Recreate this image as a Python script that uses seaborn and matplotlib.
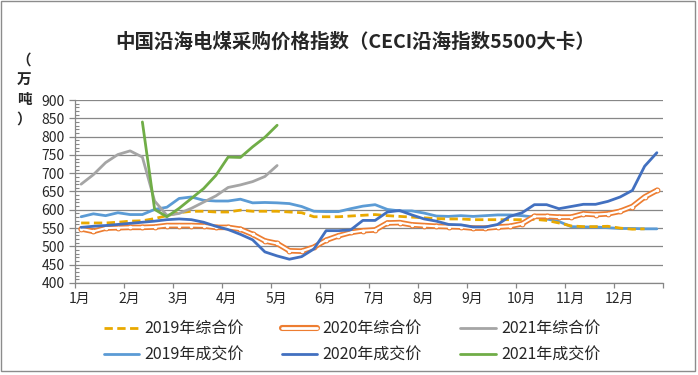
import numpy as np
import pandas as pd
import matplotlib
matplotlib.use("Agg")
import matplotlib.pyplot as plt
import seaborn as sns
from matplotlib.lines import Line2D
from matplotlib.legend_handler import HandlerTuple
from matplotlib.patches import Rectangle
from matplotlib.ticker import MultipleLocator
import matplotlib.transforms as mtransforms

# ---------------- data (4 readings per month, 48 per year) ----------------
months = ["1月", "2月", "3月", "4月", "5月", "6月", "7月", "8月", "9月", "10月", "11月", "12月"]
weeks_per_month = 4

comp_2019 = [564, 564, 564, 566, 569, 570, 576, 584, 592, 596, 596, 594, 594, 599, 596, 596,
             596, 594, 592, 581, 581, 581, 583, 585, 587, 584, 582, 580, 578, 576, 575, 575,
             573, 573, 573, 573, 573, 574, 571, 564, 556, 554, 554, 555, 550, 547, 548, None]
comp_2020 = [548, 541, 550, 551, 552, 552, 553, 557, 557, 557, 556, 552, 552, 547, 533, 515,
             508, 488, 487, 498, 517, 529, 538, 543, 545, 564, 565, 559, 557, 555, 554, 553,
             550, 550, 553, 555, 562, 582, 582, 580, 580, 589, 587, 589, 596, 609, 635, 653]
comp_2021 = [670, 696, 729, 751, 761, 744, 624, 585, 590, 604, 621, 638, 661, 668, 677, 691,
             721] + [None] * 31
deal_2019 = [581, 589, 584, 592, 587, 587, 601, 607, 631, 635, 626, 624, 624, 629, 619, 620,
             619, 617, 609, 596, 595, 595, 603, 610, 614, 601, 597, 597, 591, 583, 582, 584,
             582, 584, 586, 586, 584, 580, 575, 568, 554, 553, 553, 551, 549, 549, 548, 548]
deal_2020 = [552, 555, 557, 560, 563, 566, 569, 573, 575, 573, 566, 555, 546, 533, 518, 485,
             474, 465, 472, 493, 543, 543, 545, 571, 571, 594, 598, 586, 575, 569, 560, 559,
             553, 553, 560, 582, 592, 614, 614, 603, 609, 615, 615, 623, 635, 653, 719, 756]
deal_2021 = [None] * 5 + [840, 601, 581, 604, 631, 658, 694, 744, 743, 772, 798, 831] + [None] * 31

series_names = ["2019年综合价", "2020年综合价", "2021年综合价", "2019年成交价", "2020年成交价", "2021年成交价"]
title = "中国沿海电煤采购价格指数（CECI沿海指数5500大卡）"
ylabel = "（\n万\n吨\n）"

# ---------------- style ----------------
sns.set_theme(style="white")
plt.rcParams["font.family"] = ["Noto Sans CJK SC", "DejaVu Sans"]
plt.rcParams["axes.unicode_minus"] = False

C_GOLD = "#E9A900"
C_ORANGE = "#ED7D31"
C_GRAY = "#A5A5A5"
C_LBLUE = "#5B9BD5"
C_DBLUE = "#4270C0"
C_GREEN = "#70AD47"
GRID = "#878787"

fig = plt.figure(figsize=(6.98, 3.75), dpi=100)
ax = fig.add_axes([75 / 698, 92 / 375, (663 - 75) / 698, 183 / 375])

n = len(comp_2019)
xpos = np.arange(n) + 0.5


def frame(vals):
    return pd.DataFrame({"x": xpos, "y": pd.to_numeric(pd.Series(vals, dtype="float"))})


LW = 2.0
sns.lineplot(data=frame(deal_2019), x="x", y="y", ax=ax, color=C_LBLUE, lw=LW)
sns.lineplot(data=frame(comp_2019), x="x", y="y", ax=ax, color=C_GOLD, lw=LW)
ax.lines[-1].set_dashes((3, 1.6))
sns.lineplot(data=frame(comp_2020), x="x", y="y", ax=ax, color=C_ORANGE, lw=4.0,
             marker="o", markersize=3.4, markerfacecolor="white", markeredgecolor=C_ORANGE,
             markeredgewidth=0.8)
sns.lineplot(data=frame(comp_2020), x="x", y="y", ax=ax, color="white", lw=1.5)
sns.lineplot(data=frame(deal_2020), x="x", y="y", ax=ax, color=C_DBLUE, lw=LW)
sns.lineplot(data=frame(comp_2021), x="x", y="y", ax=ax, color=C_GRAY, lw=LW)
sns.lineplot(data=frame(deal_2021), x="x", y="y", ax=ax, color=C_GREEN, lw=LW)

# ---------------- axes ----------------
ax.set_xlim(0, n)
ax.set_ylim(400, 900)
ax.set_xlabel("")
ax.set_ylabel("")
ax.set_xticks(np.arange(0, n + 1, weeks_per_month))
ax.set_xticklabels(months + [""])
ax.yaxis.set_major_locator(MultipleLocator(50))
ax.yaxis.set_minor_locator(MultipleLocator(10))
ax.yaxis.grid(True, which="major", color=GRID, lw=0.9)
ax.set_axisbelow(True)
for s in ["top", "right"]:
    ax.spines[s].set_visible(False)
for s in ["left", "bottom"]:
    ax.spines[s].set_color(GRID)
    ax.spines[s].set_linewidth(0.9)
ax.tick_params(axis="y", which="major", direction="out", length=4.3, width=0.9, color=GRID,
               labelsize=10, pad=3, left=True)
ax.tick_params(axis="y", which="minor", direction="in", length=2.8, width=0.8, color=GRID, left=True)
ax.tick_params(axis="x", which="major", direction="out", length=3.6, width=0.9, color=GRID,
               labelsize=10, pad=3, bottom=True)
off = mtransforms.ScaledTranslation(5 / 100, 0, fig.dpi_scale_trans)
for lbl in ax.get_xticklabels():
    lbl.set_transform(lbl.get_transform() + off)

# ---------------- texts ----------------
fig.text(355 / 698, 1 - 42 / 375, title, ha="center", va="center", fontsize=14, fontweight="bold")
fig.text(24 / 698, 1 - 89 / 375, ylabel, ha="center", va="center", fontsize=10.5,
         fontweight="bold", linespacing=1.28)

# ---------------- legend ----------------
h_c19 = Line2D([], [], color=C_GOLD, lw=LW, dashes=(3, 1.6))
h_c20 = (Line2D([], [], color=C_ORANGE, lw=4.4, solid_capstyle="round"),
         Line2D([], [], color="white", lw=2.0))
h_c21 = Line2D([], [], color=C_GRAY, lw=LW)
h_d19 = Line2D([], [], color=C_LBLUE, lw=LW)
h_d20 = Line2D([], [], color=C_DBLUE, lw=LW)
h_d21 = Line2D([], [], color=C_GREEN, lw=LW)
handles = [h_c19, h_d19, h_c20, h_d20, h_c21, h_d21]
labels = [series_names[0], series_names[3], series_names[1], series_names[4], series_names[2], series_names[5]]
fig.legend(handles, labels, ncol=3, loc="center", bbox_to_anchor=(352 / 698, 1 - 342 / 375),
           frameon=False, fontsize=11.5, handlelength=2.2, handletextpad=0.35,
           columnspacing=2.4, labelspacing=0.6,
           handler_map={tuple: HandlerTuple(ndivide=1, pad=0)})

fig.add_artist(Rectangle((1 / 698, 4 / 375), 694 / 698, 370 / 375, transform=fig.transFigure,
                         fill=False, edgecolor="#8c8c8c", lw=1))

fig.savefig("out.png", dpi=100)
